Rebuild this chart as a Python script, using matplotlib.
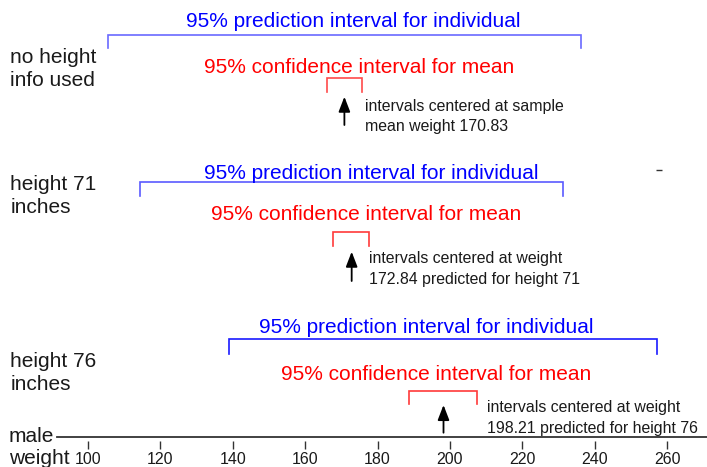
import matplotlib
matplotlib.use("Agg")
import matplotlib.pyplot as plt

plt.rcParams['font.family'] = ['Liberation Sans', 'DejaVu Sans']

# ---------------- data ----------------
row_labels = ["no height\ninfo used", "height 71\ninches", "height 76\ninches"]
centers = [170.83, 172.84, 198.21]
pi_low = [105.4, 114.4, 139.0]
pi_high = [236.2, 231.3, 257.2]
ci_low = [165.9, 167.8, 188.8]
ci_high = [175.8, 177.5, 207.6]
pi_label = "95% prediction interval for individual"
ci_label = "95% confidence interval for mean"
notes = ["intervals centered at sample\nmean weight 170.83",
         "intervals centered at weight\n172.84 predicted for height 71",
         "intervals centered at weight\n198.21 predicted for height 76"]
pi_text_x = [173.2, 178.2, 193.4]   # text centers (weight units)
ci_text_x = [174.9, 176.8, 196.1]
note_x = [176.6, 177.5, 210.3]
axis_label = "male\nweight"
tick_values = [100, 120, 140, 160, 180, 200, 220, 240, 260]
tick_labels = [str(v) for v in tick_values]

# ---------------- layout (pixel rows) ----------------
pi_y = [34.7, 182.0, 338.7]
pi_drop = [13.5, 14.0, 15.0]
ci_y = [78.0, 232.3, 391.3]
ci_drop = [14.0, 13.7, 13.0]
pi_text_base = [27, 179, 333]
ci_text_base = [73, 220, 380]
note_base = [110.7, 263.3, 412.3]
arrow_tail = [125, 281, 432.7]
arrow_tip = [96.7, 251.7, 405]
label_base = [62.7, 190.0, 367.0]
pi_colors = ['#6a6aff', '#5a5aff', '#1a1aff']
ci_colors = ['#ff4a4a', '#ff3a3a', '#ff3a3a']

fig = plt.figure(figsize=(7.07, 4.67), dpi=100)
ax = fig.add_axes([0, 0, 1, 1])
ax.set_xlim(75.69, 271.0)
ax.set_ylim(467, 0)

for i in range(3):
    lo, hi, y, d = pi_low[i], pi_high[i], pi_y[i], pi_drop[i]
    ax.plot([lo, lo, hi, hi], [y + d, y, y, y + d], color=pi_colors[i], lw=1.2,
            solid_joinstyle='miter')
    lo, hi, y, d = ci_low[i], ci_high[i], ci_y[i], ci_drop[i]
    ax.plot([lo, lo, hi, hi], [y + d, y, y, y + d], color=ci_colors[i], lw=1.2,
            solid_joinstyle='miter')
    ax.text(pi_text_x[i], pi_text_base[i], pi_label, color='#0000ff', fontsize=15,
            ha='center', va='baseline')
    ax.text(ci_text_x[i], ci_text_base[i], ci_label, color='#ff0000', fontsize=15,
            ha='center', va='baseline')
    l1, l2 = notes[i].split("\n")
    ax.text(note_x[i], note_base[i], l1, color='#1a1a1a', fontsize=11.4,
            ha='left', va='baseline')
    ax.text(note_x[i], note_base[i] + 20.3, l2, color='#1a1a1a', fontsize=11.4,
            ha='left', va='baseline')
    ax.annotate('', xy=(centers[i], arrow_tip[i]), xytext=(centers[i], arrow_tail[i]),
                arrowprops=dict(arrowstyle='-|>,head_length=0.65,head_width=0.25',
                                color='black', lw=1.3, mutation_scale=14,
                                shrinkA=0, shrinkB=0))
    a, b = row_labels[i].split("\n")
    ax.text(78.5, label_base[i], a, color='#1a1a1a', fontsize=15, ha='left', va='baseline')
    ax.text(78.5, label_base[i] + 23.3, b, color='#1a1a1a', fontsize=15, ha='left', va='baseline')

# small stray dash
ax.plot([257.7], [169.5], marker='_', color='#333333', markersize=4, mew=1)

# weight axis
ax.plot([91.4, 271.0], [437.3, 437.3], color='#333333', lw=1.3)
m, w = axis_label.split("\n")
ax.text(78.1, 442.0, m, color='#1a1a1a', fontsize=15, ha='left', va='baseline')
ax.text(78.1, 464.0, w, color='#1a1a1a', fontsize=15, ha='left', va='baseline')

for s in ['top', 'left', 'right']:
    ax.spines[s].set_visible(False)
ax.spines['bottom'].set_position(('data', 440.5))
ax.spines['bottom'].set_color('none')
ax.set_yticks([])
ax.set_xticks(tick_values)
ax.set_xticklabels(tick_labels)
ax.tick_params(axis='x', direction='out', length=5.8, width=1.0, color='#333333',
               labelsize=11.5, pad=2.8, labelcolor='#1a1a1a')
ax.patch.set_alpha(0)

fig.savefig("out.png", dpi=100, facecolor='white')
